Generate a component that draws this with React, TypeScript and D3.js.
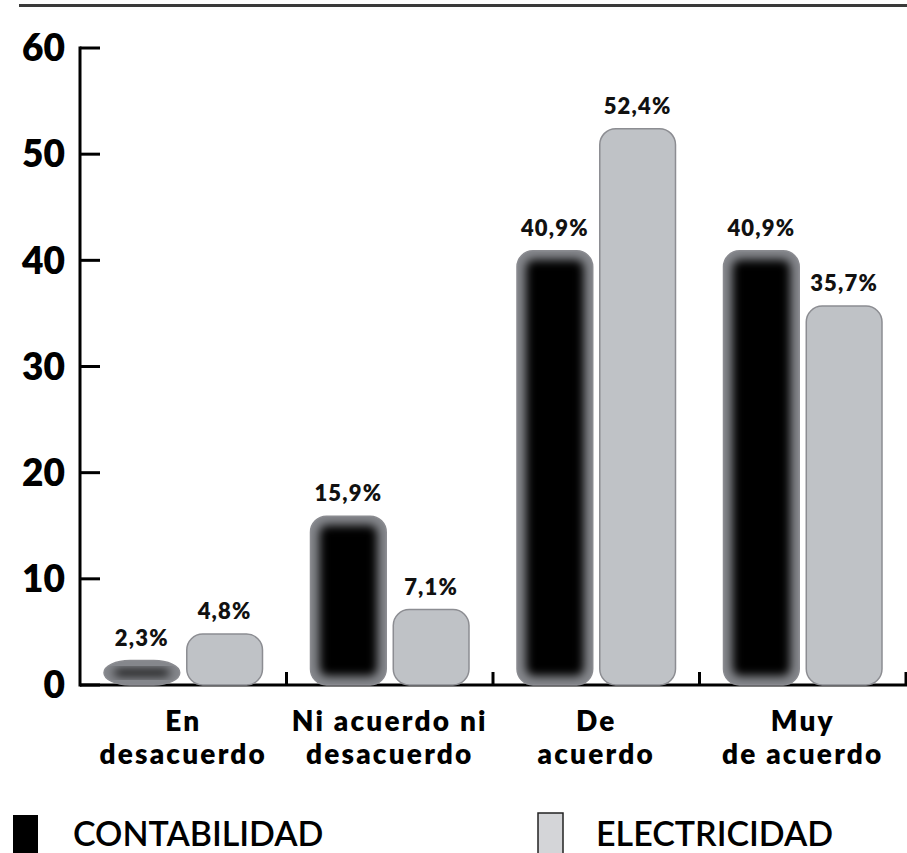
import { useMemo } from "react";
import * as d3 from "d3";

const WIDTH = 907;
const HEIGHT = 853;
const FONT = "Lato, 'Open Sans', sans-serif";

const categories = [
  ["En", "desacuerdo"],
  ["Ni acuerdo ni", "desacuerdo"],
  ["De", "acuerdo"],
  ["Muy", "de acuerdo"],
];
const series = ["CONTABILIDAD", "ELECTRICIDAD"];
const contabilidad = [2.3, 15.9, 40.9, 40.9];
const electricidad = [4.8, 7.1, 52.4, 35.7];
const yTicks = [0, 10, 20, 30, 40, 50, 60];

const fmt = (v: number) => v.toFixed(1).replace(".", ",") + "%";

export default function App() {
  const keys = categories.map((c) => c.join(" "));

  const xScale = useMemo(
    () => d3.scaleBand().domain(keys).range([80, 906]).padding(0),
    []
  );
  const bw = xScale.bandwidth();
  const xInner = useMemo(
    () => d3.scaleBand().domain(series).range([24, bw - 24]).paddingInner(0.085),
    [bw]
  );
  const yScale = useMemo(() => d3.scaleLinear().domain([0, 60]).range([685, 48]), []);
  const barW = xInner.bandwidth();

  const bars = keys.map((k, i) => {
    const gx = xScale(k) ?? 0;
    return series.map((s, j) => {
      const v = j === 0 ? contabilidad[i] : electricidad[i];
      const x = gx + (xInner(s) ?? 0);
      const y = yScale(v);
      const h = yScale(0) - y;
      const ry = Math.min(16, h / 2);
      const rx = h < 32 ? 26 : 16;
      const id = `clip-${i}-${j}`;
      return (
        <g key={`${i}-${j}`}>
          {j === 0 ? (
            <>
              <clipPath id={id}>
                <rect x={x} y={y} width={barW} height={h} rx={rx} ry={ry} />
              </clipPath>
              <g clipPath={`url(#${id})`}>
                <rect x={x} y={y} width={barW} height={h} fill="#85878c" />
                <rect
                  x={x + 9}
                  y={y + 9}
                  width={barW - 18}
                  height={Math.max(h - 18, 6)}
                  rx={8}
                  fill="#000"
                  filter="url(#soft)"
                />
              </g>
              <rect
                x={x}
                y={y}
                width={barW}
                height={h}
                rx={rx}
                ry={ry}
                fill="none"
                stroke="#8a8b90"
                strokeWidth={1.5}
              />
            </>
          ) : (
            <rect
              x={x}
              y={y}
              width={barW}
              height={h}
              rx={rx}
              ry={ry}
              fill="#bfc2c6"
              stroke="#8c8d92"
              strokeWidth={1.5}
            />
          )}
          <text
            x={x + barW / 2}
            y={y - 15}
            textAnchor="middle"
            fontFamily={FONT}
            fontWeight={800}
            fontSize={22}
            letterSpacing={1.2}
            fill="#111"
          >
            {fmt(v)}
          </text>
        </g>
      );
    });
  });

  return (
    <svg
      width={WIDTH}
      height={HEIGHT}
      style={{ position: "absolute", left: 0, top: 0, background: "#fff" }}
    >
      <defs>
        <filter id="soft" x="-50%" y="-50%" width="200%" height="200%">
          <feGaussianBlur stdDeviation={5} />
        </filter>
      </defs>

      {/* top rule */}
      <line x1={19} x2={WIDTH} y1={5.5} y2={5.5} stroke="#3a3a3a" strokeWidth={3} />

      {/* y axis */}
      <line x1={80} x2={80} y1={yScale(60) - 1.5} y2={yScale(0) + 1.5} stroke="#000" strokeWidth={3} />
      {yTicks.map((t) => (
        <g key={t}>
          <line x1={80} x2={100} y1={yScale(t)} y2={yScale(t)} stroke="#000" strokeWidth={3} />
          <text
            x={65}
            y={yScale(t)}
            dy="0.36em"
            textAnchor="end"
            fontFamily={FONT}
            fontWeight={800}
            fontSize={37}
            fill="#000"
          >
            {t}
          </text>
        </g>
      ))}

      {/* x axis */}
      <line x1={80} x2={WIDTH} y1={yScale(0)} y2={yScale(0)} stroke="#000" strokeWidth={3} />
      {keys.map((k) => {
        const xe = (xScale(k) ?? 0) + bw;
        return (
          <line key={k} x1={xe} x2={xe} y1={yScale(0) - 13} y2={yScale(0)} stroke="#000" strokeWidth={3} />
        );
      })}

      {bars}

      {/* category labels, two lines each */}
      {categories.map((c, i) => {
        const cx = (xScale(keys[i]) ?? 0) + bw / 2;
        return c.map((line, li) => (
          <text
            key={`${i}-${li}`}
            x={cx}
            y={731 + li * 33}
            textAnchor="middle"
            fontFamily={FONT}
            fontWeight={800}
            fontSize={28}
            letterSpacing={2.2}
            fill="#000"
          >
            {line}
          </text>
        ));
      })}

      {/* legend */}
      <rect x={13} y={815} width={25} height={40} fill="#000" />
      <text x={73} y={846} fontFamily={FONT} fontWeight={600} fontSize={34} fill="#000">
        {series[0]}
      </text>
      <rect x={538} y={813} width={25} height={42} fill="#d4d5d8" stroke="#222" strokeWidth={1.5} />
      <text x={596} y={846} fontFamily={FONT} fontWeight={600} fontSize={34} fill="#000">
        {series[1]}
      </text>
    </svg>
  );
}
